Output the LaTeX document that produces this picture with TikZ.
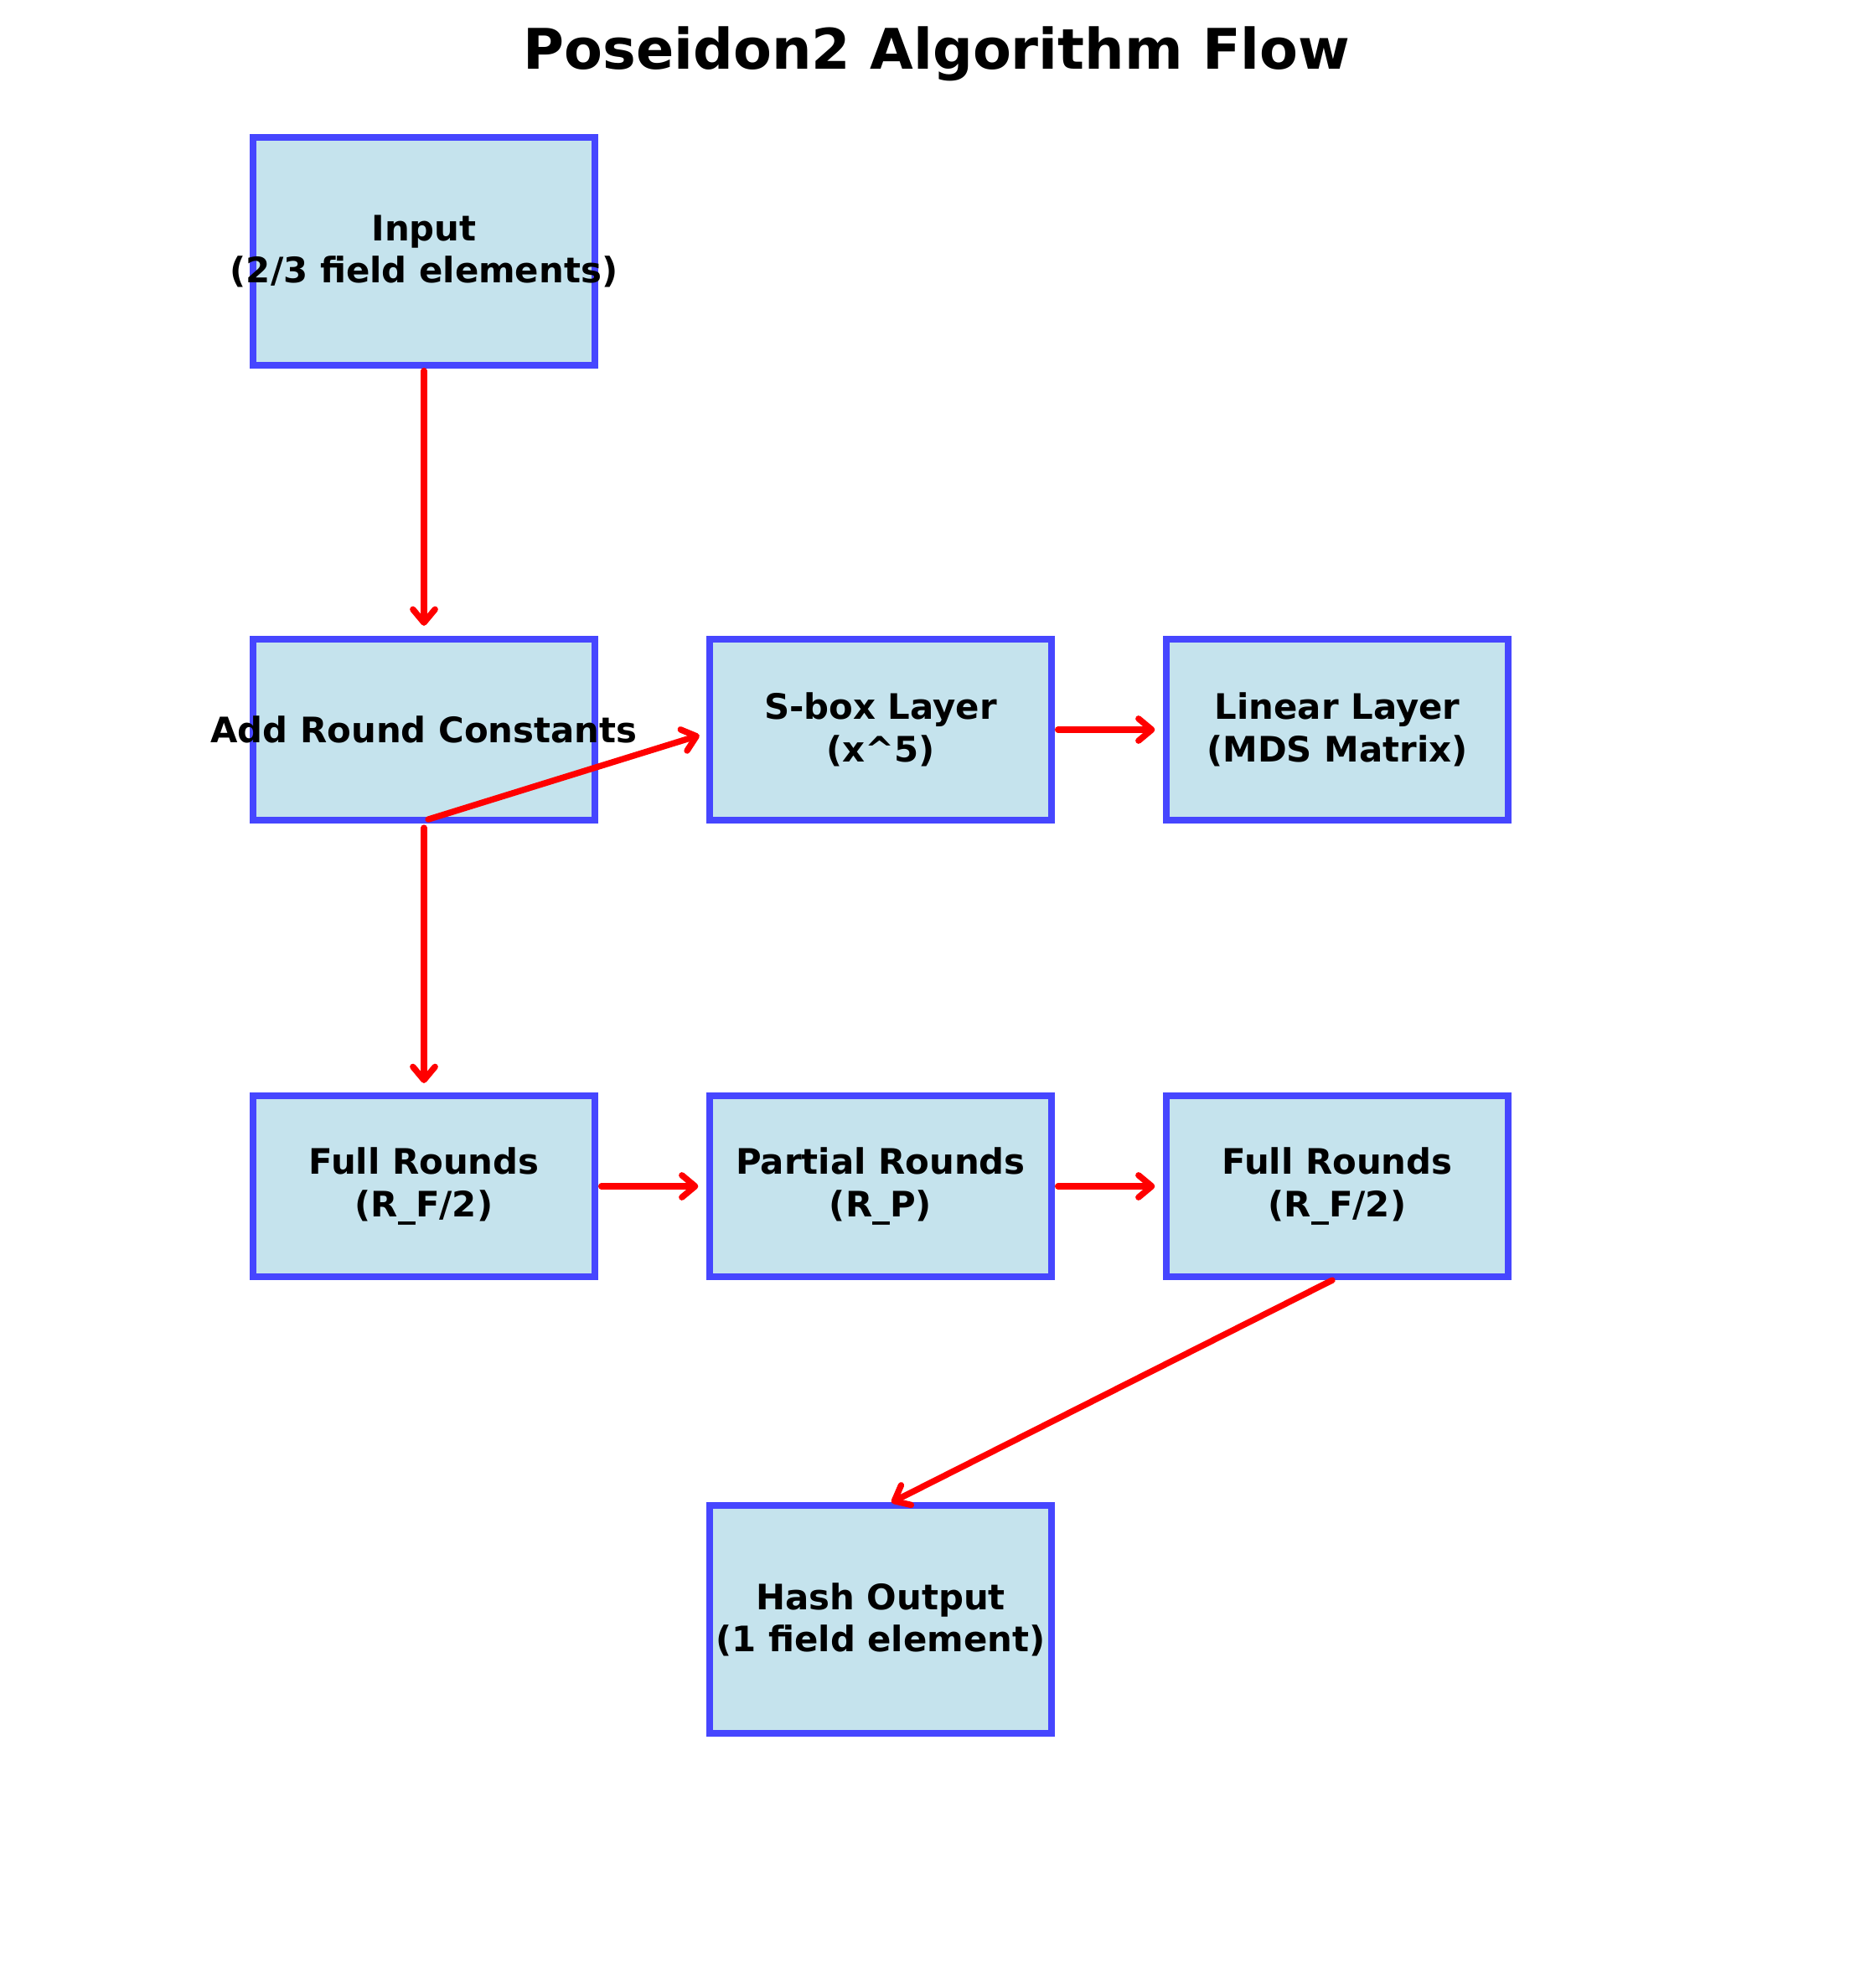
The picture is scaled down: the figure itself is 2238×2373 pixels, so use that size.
\documentclass[tikz,border=0pt]{standalone}
\usepackage{fontspec}
\setmainfont{DejaVu Sans}
\usetikzlibrary{arrows.meta,calc}
\definecolor{boxfill}{HTML}{C5E3ED}
\definecolor{boxline}{HTML}{4646FF}
\begin{document}
\begin{tikzpicture}[x=0.01cm,y=-0.01cm,
  box/.style={rectangle,draw=boxline,fill=boxfill,line width=2.3pt,minimum width=4.07cm,inner sep=0pt},
  tallbox/.style={box,minimum height=2.71cm},
  shortbox/.style={box,minimum height=2.16cm},
  lbl/.style={font=\fontsize{11.9}{14.3}\selectfont\bfseries,align=center,inner sep=0pt},
  flow/.style={draw=red,line width=2.1pt,line cap=round,
    -{Straight Barb[length=4.5pt,width=7.5pt,line cap=round,line join=round]}}]
\useasboundingbox (0,0) rectangle (2238,2373);
\node[font=\fontsize{19}{23}\selectfont\bfseries,inner sep=0pt] (title) at (1118,64) {Poseidon2 Algorithm Flow};
% boxes
\node[tallbox] (in) at (506,300) {};
\node[shortbox] (arc) at (506,871) {};
\node[shortbox] (sbox) at (1051,871) {};
\node[shortbox] (lin) at (1596,871) {};
\node[shortbox] (fr1) at (506,1416) {};
\node[shortbox] (pr) at (1051,1416) {};
\node[shortbox] (fr2) at (1596,1416) {};
\node[tallbox] (hash) at (1051,1933) {};
% arrows
\draw[flow,shorten <=0.03cm,shorten >=0.12cm] (in.south) -- (arc.north);
\draw[flow,shorten >=0.09cm] ($(arc.south)+(5,-5)$) -- ($(sbox.west)+(0,4)$);
\draw[flow,shorten <=0.05cm,shorten >=0.11cm] (arc.south) -- (fr1.north);
\draw[flow,shorten <=0.04cm,shorten >=0.1cm] (sbox.east) -- (lin.west);
\draw[flow,shorten <=0.04cm,shorten >=0.1cm] (fr1.east) -- (pr.west);
\draw[flow,shorten <=0.04cm,shorten >=0.1cm] (pr.east) -- (fr2.west);
\draw[flow] ($(fr2.south)+(-6,0)$) -- ($(hash.north)+(13,0)$);
% labels
\node[lbl] (inL) at (in) {Input\\(2/3 field elements)};
\node[lbl] (arcL) at (arc) {Add Round Constants};
\node[lbl] (sboxL) at (sbox) {S-box Layer\\(x\^{}5)};
\node[lbl] (linL) at (lin) {Linear Layer\\(MDS Matrix)};
\node[lbl] (fr1L) at (fr1) {Full Rounds\\(R\_F/2)};
\node[lbl] (prL) at (pr) {Partial Rounds\\(R\_P)};
\node[lbl] (fr2L) at (fr2) {Full Rounds\\(R\_F/2)};
\node[lbl] (hashL) at (hash) {Hash Output\\(1 field element)};
\end{tikzpicture}
\end{document}
